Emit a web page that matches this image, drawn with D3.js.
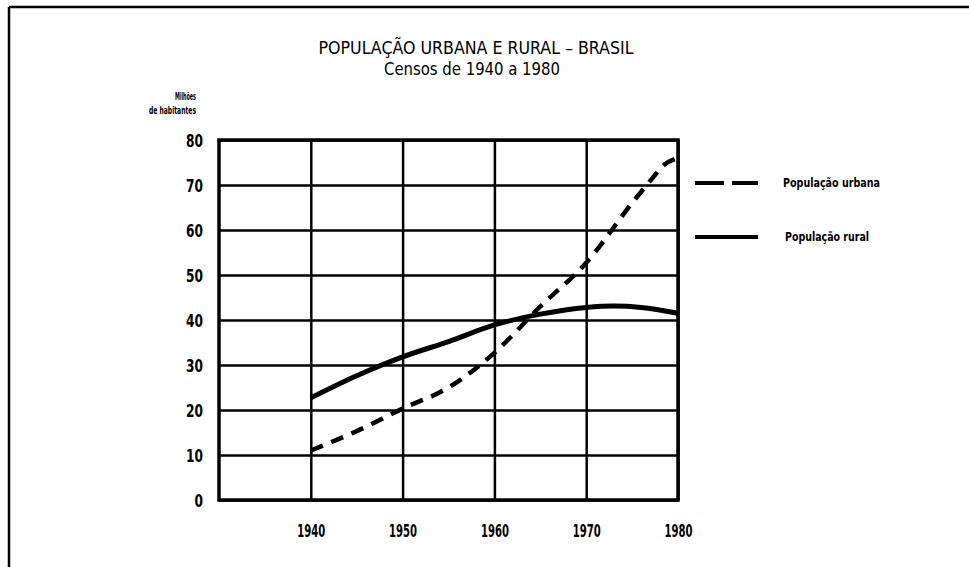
<html>
<head>
<title>População urbana e rural - Brasil</title>
<script src="https://d3js.org/d3.v7.min.js"></script>
<style>
  body { margin: 0; background: #fff; }
  text { font-family: "Liberation Sans Narrow", "DejaVu Sans Condensed", "Liberation Sans", sans-serif; fill: #000; }
</style>
<script>
// values (millions of inhabitants)
const urbanYears = [1940, 1945, 1950, 1955, 1960, 1965, 1970, 1975, 1977, 1978.5, 1980];
const urbanValues = [11, 15.3, 20.3, 25, 32.7, 43, 52.7, 66, 71, 74.5, 76];
const ruralYears = [1940, 1945, 1950, 1955, 1960, 1965, 1970, 1973, 1976, 1980];
const ruralValues = [22.7, 27.6, 31.8, 35.2, 38.9, 41.3, 42.8, 43.1, 42.8, 41.5];
const xTicks = [1940, 1950, 1960, 1970, 1980];
const yTicks = [0, 10, 20, 30, 40, 50, 60, 70, 80];
const legendLabels = ["População urbana", "População rural"];

document.addEventListener('DOMContentLoaded', function(){
    const w = 969;
    const h = 567;
    const left = 219, right = 678, top = 140, bottom = 500;

    const xScale = d3.scaleLinear().domain([1930, 1980]).range([left, right]);
    const yScale = d3.scaleLinear().domain([0, 80]).range([bottom, top]);

    const svg = d3.select("body").append("svg")
        .attr("width", w)
        .attr("height", h);

    svg.append("rect").attr("width", w).attr("height", h).attr("fill", "#fff");

    // scanned page frame
    svg.append("line").attr("x1", 9).attr("y1", 7).attr("x2", w).attr("y2", 7)
        .attr("stroke", "#000").attr("stroke-width", 2.5);
    svg.append("line").attr("x1", 9).attr("y1", 7).attr("x2", 9).attr("y2", h)
        .attr("stroke", "#000").attr("stroke-width", 2.5);

    // titles
    svg.append("text").attr("x", 476).attr("y", 54)
        .attr("text-anchor", "middle").style("font-size", "17px")
        .attr("textLength", 315).attr("lengthAdjust", "spacingAndGlyphs")
        .text("POPULAÇÃO URBANA E RURAL – BRASIL");
    svg.append("text").attr("x", 472).attr("y", 75)
        .attr("text-anchor", "middle").style("font-size", "17px")
        .attr("textLength", 176).attr("lengthAdjust", "spacingAndGlyphs")
        .text("Censos de 1940 a 1980");

    svg.append("text").attr("x", 196).attr("y", 100)
        .attr("text-anchor", "end").style("font-size", "11px").style("font-weight", "bold")
        .attr("textLength", 21).attr("lengthAdjust", "spacingAndGlyphs")
        .text("Milhões");
    svg.append("text").attr("x", 196).attr("y", 114)
        .attr("text-anchor", "end").style("font-size", "11px").style("font-weight", "bold")
        .attr("textLength", 47).attr("lengthAdjust", "spacingAndGlyphs")
        .text("de habitantes");

    // axes double as grid
    const xAxis = d3.axisBottom(xScale)
        .tickValues(xTicks)
        .tickFormat(d3.format("d"))
        .tickSizeInner(-(bottom - top))
        .tickSizeOuter(0)
        .tickPadding(25);
    const yAxis = d3.axisLeft(yScale)
        .tickValues(yTicks)
        .tickSizeInner(-(right - left))
        .tickSizeOuter(0)
        .tickPadding(16);

    const gx = svg.append("g").attr("class", "axis-x")
        .attr("transform", `translate(0, ${bottom})`)
        .call(xAxis);
    const gy = svg.append("g").attr("class", "axis-y")
        .attr("transform", `translate(${left}, 0)`)
        .call(yAxis);

    [gx, gy].forEach(g => {
        g.select(".domain").remove();
        g.selectAll("line").attr("stroke", "#000").attr("stroke-width", 2.5);
        g.selectAll("text")
            .style("font-size", "17px")
            .style("font-weight", "bold")
            .attr("lengthAdjust", "spacingAndGlyphs");
    });
    gx.selectAll("text").attr("textLength", 28);
    gy.selectAll("text")
        .attr("dy", "0.4em")
        .attr("textLength", d => String(d).length * 8.5);

    svg.append("rect")
        .attr("x", left).attr("y", top)
        .attr("width", right - left).attr("height", bottom - top)
        .attr("fill", "none").attr("stroke", "#000").attr("stroke-width", 3.5);

    const line = d3.line()
        .x(d => xScale(d[0]))
        .y(d => yScale(d[1]))
        .curve(d3.curveMonotoneX);

    svg.append("path")
        .datum(ruralYears.map((y, i) => [y, ruralValues[i]]))
        .attr("d", line)
        .attr("fill", "none").attr("stroke", "#000").attr("stroke-width", 5);

    svg.append("path")
        .datum(urbanYears.map((y, i) => [y, urbanValues[i]]))
        .attr("d", line)
        .attr("fill", "none").attr("stroke", "#000").attr("stroke-width", 4.5)
        .attr("stroke-dasharray", "13,9");

    // legend
    const legend = svg.append("g").attr("class", "legend");
    legend.append("line")
        .attr("x1", 695).attr("x2", 758).attr("y1", 183).attr("y2", 183)
        .attr("stroke", "#000").attr("stroke-width", 4)
        .attr("stroke-dasharray", "29,8");
    legend.append("line")
        .attr("x1", 695).attr("x2", 758).attr("y1", 237).attr("y2", 237)
        .attr("stroke", "#000").attr("stroke-width", 4);
    legend.append("text")
        .attr("x", 783).attr("y", 187)
        .style("font-size", "12px").style("font-weight", "bold")
        .attr("textLength", 97).attr("lengthAdjust", "spacingAndGlyphs")
        .text(legendLabels[0]);
    legend.append("text")
        .attr("x", 785).attr("y", 241)
        .style("font-size", "12px").style("font-weight", "bold")
        .attr("textLength", 84).attr("lengthAdjust", "spacingAndGlyphs")
        .text(legendLabels[1]);
});
</script>
</head>
<body>
</body>
</html>
